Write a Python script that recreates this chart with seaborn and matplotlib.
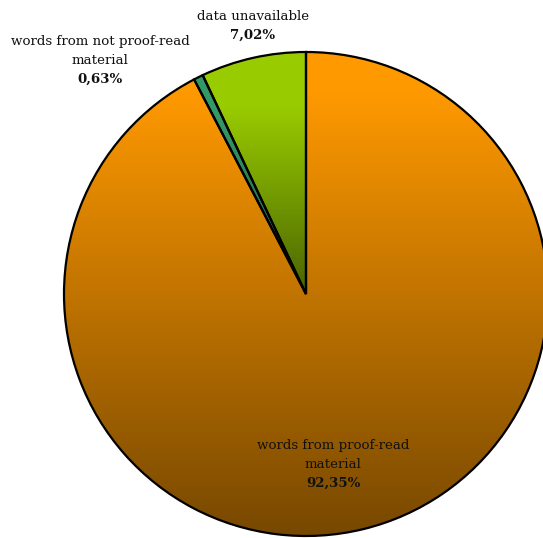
import numpy as np
import matplotlib
matplotlib.use("Agg")
import matplotlib.pyplot as plt
import seaborn as sns
from matplotlib.colors import LinearSegmentedColormap

sns.set_theme(style="white")
plt.rcParams['font.family'] = ['DejaVu Serif']

categories = ["words from proof-read material", "words from not proof-read material", "data unavailable"]
values = [92.35, 0.63, 7.02]
value_labels = ["92,35%", "0,63%", "7,02%"]
top_colors = ["#FF9900", "#339966", "#99CC00"]
bottom_colors = ["#774800", "#1f5a45", "#4a6400"]
plateau = [0.92, 0.8, 0.78]

W, H = 543, 538
fig = plt.figure(figsize=(W / 100, H / 100), dpi=100)
ax = fig.add_axes([0, 0, 1, 1])

cx, cy, r = 306, H - 294, 242
wedges, _ = ax.pie(values, startangle=90, counterclock=False, center=(cx, cy), radius=r,
                   colors=top_colors, wedgeprops=dict(edgecolor='black', linewidth=1.6))

grad = np.linspace(1, 0, 256).reshape(-1, 1)
for w, c0, c1, p in zip(wedges, top_colors, bottom_colors, plateau):
    ext = w.get_path().get_extents()
    cmap = LinearSegmentedColormap.from_list("g", [(0, c1), (p, c0), (1, c0)])
    im = ax.imshow(grad, cmap=cmap, aspect='auto', origin='upper',
                   extent=(ext.x0, ext.x1, ext.y0, ext.y1), zorder=1, vmin=0, vmax=1)
    im.set_clip_path(w)
    w.set_facecolor('none')
    w.set_zorder(2)

ax.set_xlim(0, W)
ax.set_ylim(0, H)
ax.set_aspect('equal')
ax.axis('off')

def label(x, y_top, lines, pct):
    fs = 9.6
    y = y_top
    for ln in lines:
        ax.text(x, H - y, ln, ha='center', va='center', fontsize=fs, color='#111111', zorder=5)
        y += 19
    ax.text(x, H - y, pct, ha='center', va='center', fontsize=fs, fontweight='bold', color='#111111', zorder=5)

label(253, 16, ["data unavailable"], value_labels[2])
label(100, 41, ["words from not proof-read", "material"], value_labels[1])
label(333, 445, ["words from proof-read", "material"], value_labels[0])

fig.savefig("out.png", dpi=100)
